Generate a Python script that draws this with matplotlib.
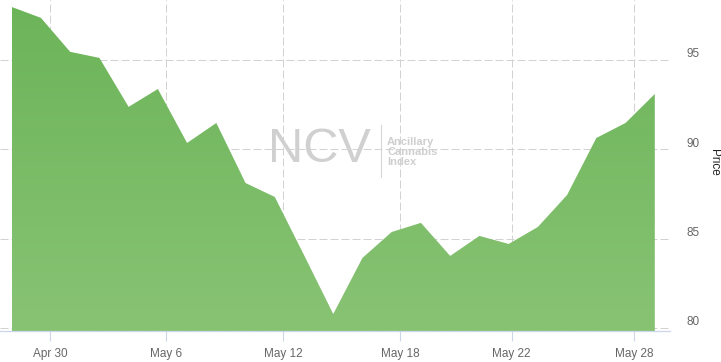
import numpy as np
import matplotlib
matplotlib.use("Agg")
import matplotlib.pyplot as plt
import matplotlib.transforms as mtransforms
from matplotlib.colors import LinearSegmentedColormap

# daily closes of the index (trading days)
prices = [97.96, 97.35, 95.45, 95.11, 92.37, 93.37, 90.35, 91.47, 88.11, 87.33,
          84.08, 80.78, 83.92, 85.37, 85.88, 84.03, 85.15, 84.70, 85.65, 87.44,
          90.63, 91.47, 93.09]
tick_labels = ["Apr 30", "May 6", "May 12", "May 18", "May 22", "May 28"]
tick_pos = [1.31, 5.28, 9.29, 13.29, 17.10, 21.30]
y_ticks = [80, 85, 90, 95]

x = np.arange(len(prices))

fig = plt.figure(figsize=(7.21, 3.62), dpi=100)
ax = fig.add_axes([0, 1 - 331 / 362, 670 / 721, 331 / 362])

grid_kw = dict(color="#d2d2d2", lw=0.72, ls=(0, (8, 3)), zorder=0)
for t in tick_pos:
    ax.axvline(t, **grid_kw)
for t in y_ticks:
    ax.axhline(t, **grid_kw)

# area with vertical gradient
poly = ax.fill_between(x, prices, 79.83, color="none", lw=0, zorder=2)
cmap = LinearSegmentedColormap.from_list("g", ["#6cb459", "#88c374"])
grad = np.linspace(0, 1, 256).reshape(-1, 1)
img = ax.imshow(grad, cmap=cmap, aspect="auto", extent=[x[0], x[-1], 79.83, max(prices)],
                origin="upper", zorder=2)
img.set_clip_path(poly.get_paths()[0], transform=ax.transData)
ax.set_xlim(-0.40, 22.52)
ax.set_ylim(79.83, 98.35)

for s in ["top", "left", "right"]:
    ax.spines[s].set_visible(False)
ax.spines["bottom"].set_color("#ccd6eb")
ax.spines["bottom"].set_linewidth(0.9)

ax.set_xticks(tick_pos)
ax.set_xticklabels(tick_labels, fontsize=8.5, color="#666666", family="Liberation Sans")
ax.tick_params(axis="x", length=7, width=0.8, color="#ccd6eb", pad=5)

ax.yaxis.tick_right()
ax.set_yticks(y_ticks)
ax.set_yticklabels([str(v) for v in y_ticks], fontsize=8.5, color="#666666",
                   family="Liberation Sans")
ax.tick_params(axis="y", length=0, pad=12)
off = mtransforms.ScaledTranslation(0, 7 / 100, fig.dpi_scale_trans)
for lbl in ax.get_yticklabels():
    lbl.set_transform(lbl.get_transform() + off)

fig.text(714 / 721, 1 - 162 / 362, "Price", rotation=270, ha="center", va="center",
         fontsize=8.5, color="#222222", family="Liberation Sans")

# watermark
fig.text(319 / 721, 1 - 150 / 362, "NCV", ha="center", va="center", fontsize=35,
         color="#d0d0d0", family="Liberation Sans", zorder=5)
fig.add_artist(plt.Line2D([381 / 721, 381 / 721], [1 - 125 / 362, 1 - 177 / 362],
                          color="#d6d6d6", lw=0.8))
fig.text(387 / 721, 1 - 152 / 362, "Ancillary\nCannabis\nIndex", ha="left", va="center",
         fontsize=8, color="#cfcfcf", fontweight="bold", family="Liberation Sans",
         linespacing=1.0)

fig.savefig("out.png", dpi=100)
